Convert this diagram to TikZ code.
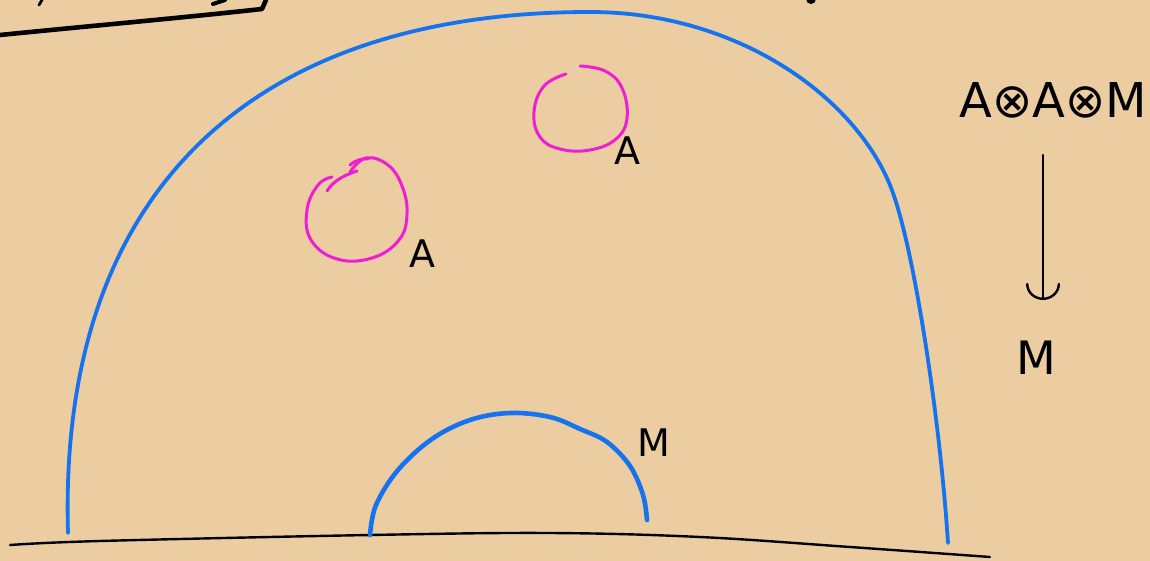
\documentclass[tikz,border=0pt]{standalone}
\usepackage{fontspec}
\setmainfont{DejaVu Sans}
\usetikzlibrary{arrows.meta}
\definecolor{paper}{RGB}{235,205,161}
\definecolor{penblue}{RGB}{22,115,240}
\definecolor{penmag}{RGB}{238,30,210}
\tikzset{
  blueline/.style={draw=penblue, line width=1.9pt, line cap=round, line join=round},
  magline/.style={draw=penmag, line width=1.5pt, line cap=round, line join=round},
  inkline/.style={draw=black, line width=1.2pt, line cap=round, line join=round},
  inklabel/.style={inner sep=0pt, text=black},
}
\begin{document}
\begin{tikzpicture}[x=0.5pt,y=-0.5pt]
\fill[paper] (0,0) rectangle (1150,561);
\useasboundingbox (0,0) rectangle (1150,561);

% top-left fragment
\draw[inkline, line width=2.3pt] (0,35) .. controls (90,26) and (180,18) .. (262,9) -- (266,0);
\draw[inkline, line width=1.4pt] (39,5) -- (42,0);
\draw[inkline, line width=2pt] (213,4) -- (225,0);
\fill[black] (811,-1) circle (5);

% baseline
\draw[inkline] plot[smooth, tension=0.6] coordinates {(10,545) (100,541) (370,535) (550,533) (700,537) (850,547) (990,557)};

% big blue arc
\draw[blueline] (68,533) .. controls (58,194) and (249,12) .. (590,12)
  .. controls (740,12) and (860,100) .. (893,193)
  .. controls (915,255) and (940,420) .. (948,543);

% small blue arc
\draw[blueline, line width=2.3pt] plot[smooth, tension=0.6] coordinates {(370,535) (376,505) (398,470) (432,439) (470,420) (510,413) (550,417) (580,429) (607,442) (630,466) (643,495) (647,520)};

% magenta circles
\draw[magline] plot[smooth, tension=0.7] coordinates {(580,66) (605,71) (622,88) (627,118) (616,139) (590,150) (560,149) (540,137) (534,112) (544,86) (566,74)};
\draw[magline] plot[smooth, tension=0.7] coordinates {(350,172) (366,158) (388,165) (402,186) (407,214) (399,240) (372,258) (337,259) (311,240) (307,210) (318,185) (332,177)};
\draw[magline] (327,191) .. controls (334,180) and (345,175) .. (357,171);
\draw[magline] (350,165) .. controls (356,160) and (363,158) .. (368,159);

% labels
\node[inklabel, font=\fontsize{19}{19}\selectfont] (a1) at (627,151) {A};
\node[inklabel, font=\fontsize{19}{19}\selectfont] (a2) at (422,254) {A};
\node[inklabel, font=\fontsize{19}{19}\selectfont] (m1) at (654,443) {M};
\node[inklabel, font=\fontsize{24}{24}\selectfont] (prod) at (1053,100) {A⊗A⊗M};
\node[inklabel, font=\fontsize{23}{23}\selectfont] (m2) at (1036,358) {M};

% arrow
\coordinate (arrS) at (1043,155);
\coordinate (arrE) at (1043,300);
\draw[inkline, -{Arc Barb[length=8pt, width=17pt, line cap=round]}] (arrS) -- (arrE);
\end{tikzpicture}
\end{document}
